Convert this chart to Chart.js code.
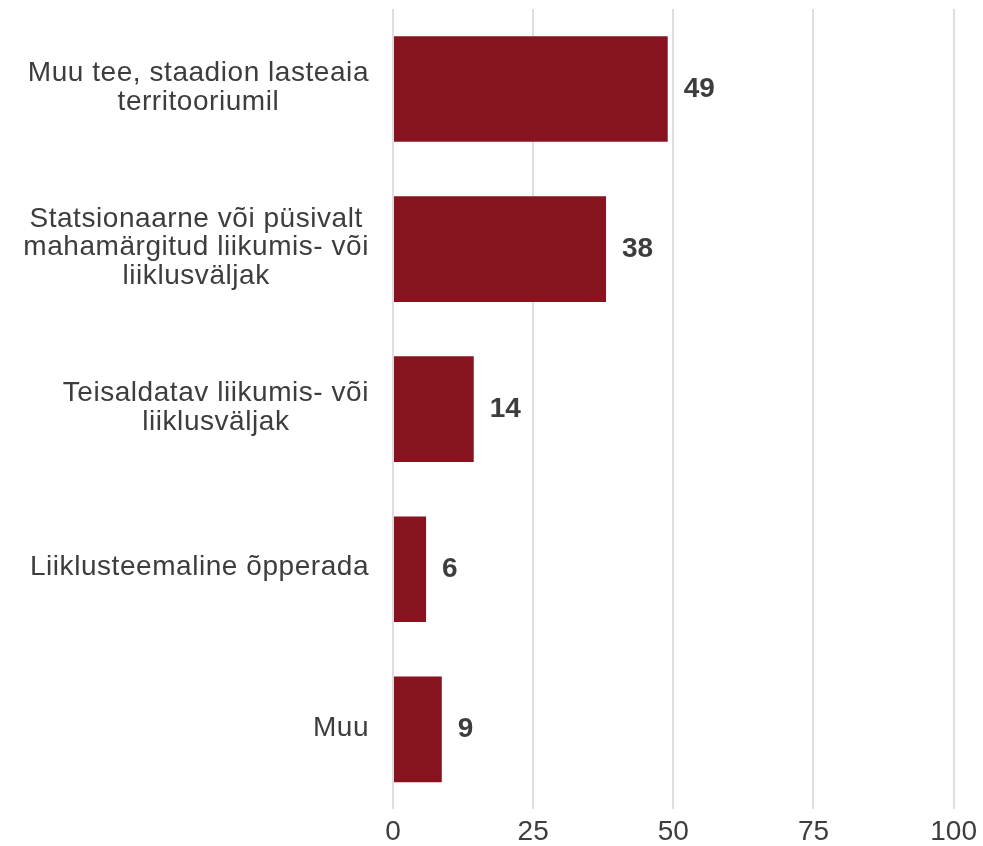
<!DOCTYPE html>
<html>
<head>
<meta charset="utf-8">
<script src="https://cdn.jsdelivr.net/npm/chart.js@4/dist/chart.umd.min.js"></script>
<style>
  html, body { margin: 0; padding: 0; background: #ffffff; }
  #wrap { width: 983px; height: 846px; }
</style>
</head>
<body>
<div id="wrap"><canvas id="c" width="983" height="846"></canvas></div>
<script>
const categories = [
  ["Muu tee, staadion lasteaia", "territooriumil"],
  ["Statsionaarne või püsivalt", "mahamärgitud liikumis- või", "liiklusväljak"],
  ["Teisaldatav liikumis- või", "liiklusväljak"],
  ["Liiklusteemaline õpperada"],
  ["Muu"]
];
const values = [49, 38, 14.4, 5.9, 8.7];
const valueLabels = ["49", "38", "14", "6", "9"];
const xTicks = [0, 25, 50, 75, 100];

const FONT = "'Liberation Sans', Arial, Helvetica, sans-serif";
const TEXT = "#3d3d3d";
const BAR = "#87131f";

const yLabelPlugin = {
  id: 'yLabels',
  afterDraw(chart) {
    const ctx = chart.ctx;
    const ys = chart.scales.y;
    const rightEdge = chart.chartArea.left - 24;
    const lh = 28.5;
    ctx.save();
    ctx.font = "28px " + FONT;
    try { ctx.letterSpacing = '0.55px'; } catch (e) {}
    ctx.fillStyle = TEXT;
    ctx.textBaseline = 'middle';
    ctx.textAlign = 'center';
    categories.forEach((lines, i) => {
      const yc = ys.getPixelForValue(i) - 1.5;
      let maxW = 0;
      lines.forEach(l => { maxW = Math.max(maxW, ctx.measureText(l).width); });
      const cx = rightEdge - maxW / 2;
      const y0 = yc - (lines.length - 1) * lh / 2;
      lines.forEach((l, k) => ctx.fillText(l, cx, y0 + k * lh));
    });
    ctx.restore();
  }
};

const valueLabelPlugin = {
  id: 'valueLabels',
  afterDatasetsDraw(chart) {
    const ctx = chart.ctx;
    const meta = chart.getDatasetMeta(0);
    ctx.save();
    ctx.font = "bold 28px " + FONT;
    ctx.fillStyle = TEXT;
    ctx.textBaseline = 'middle';
    ctx.textAlign = 'left';
    meta.data.forEach((bar, i) => {
      ctx.fillText(valueLabels[i], bar.x + 16, bar.y);
    });
    ctx.restore();
  }
};

new Chart(document.getElementById('c'), {
  type: 'bar',
  data: {
    labels: categories.map(l => l.join(' ')),
    datasets: [{
      data: values,
      backgroundColor: BAR,
      borderWidth: 0,
      categoryPercentage: 1,
      barPercentage: 0.66
    }]
  },
  options: {
    indexAxis: 'y',
    responsive: false,
    animation: false,
    devicePixelRatio: 1,
    layout: { padding: { left: 393, right: 28, top: 9, bottom: -9 } },
    plugins: { legend: { display: false }, tooltip: { enabled: false } },
    scales: {
      x: {
        min: 0, max: 100,
        afterBuildTicks(axis) { axis.ticks = xTicks.map(v => ({ value: v })); },
        grid: { color: '#dedede', lineWidth: 2, drawTicks: false },
        border: { display: false },
        ticks: { color: TEXT, font: { family: FONT, size: 28 }, padding: 6 }
      },
      y: {
        display: false,
        grid: { display: false }
      }
    }
  },
  plugins: [yLabelPlugin, valueLabelPlugin]
});
</script>
</body>
</html>
